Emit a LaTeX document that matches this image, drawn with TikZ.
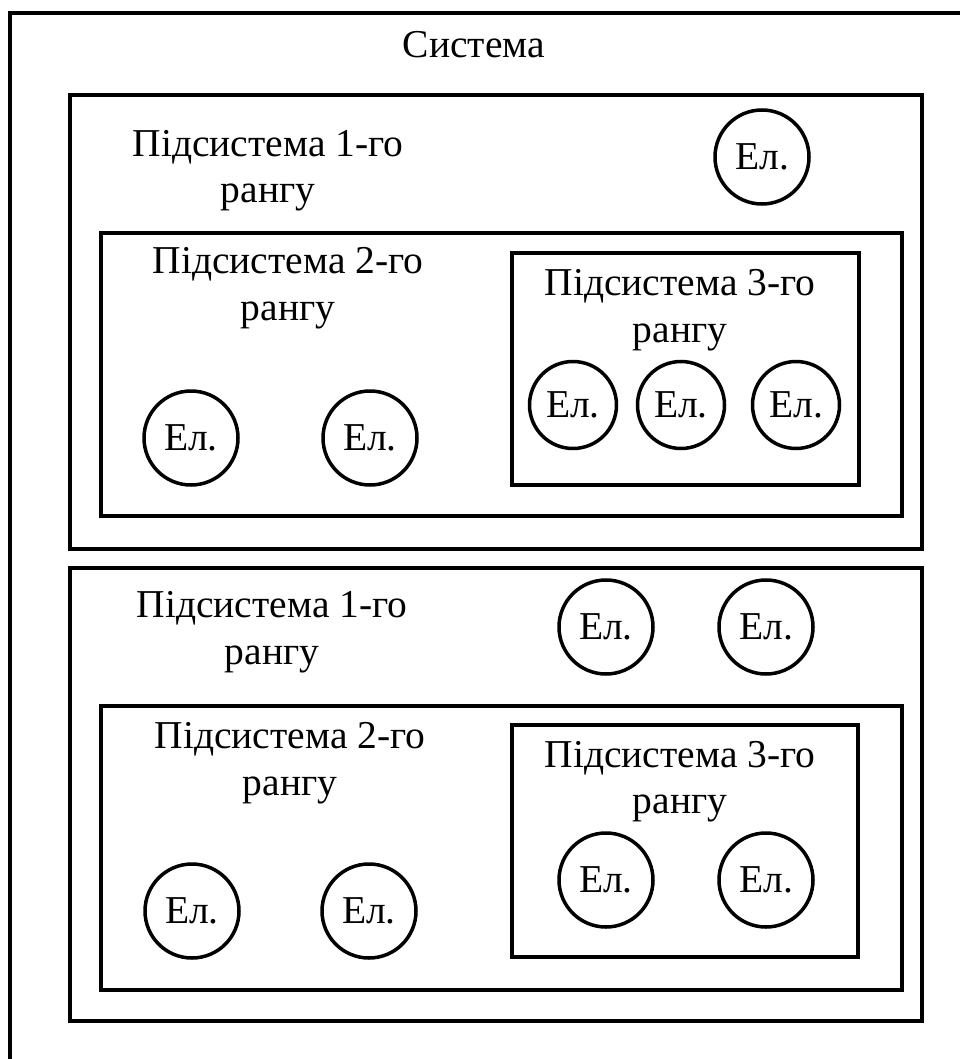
\documentclass[tikz,border=0pt]{standalone}
\usepackage{fontspec}
\setmainfont{LiberationSerif}[Extension=.ttf, UprightFont=*-Regular, BoldFont=*-Bold]
\newcommand\lblfont{\fontsize{39.5}{46}\selectfont}
\begin{document}
\begin{tikzpicture}[x=1pt,y=-1pt,
  box/.style={draw, line width=4pt},
  el/.style={draw, circle, line width=3.5pt, minimum size=94pt, inner sep=0pt, font=\lblfont},
  lbl/.style={anchor=base, inner sep=0pt, font=\lblfont}]
\useasboundingbox (0,0) rectangle (960,1059);
\clip (0,0) rectangle (960,1059);
% system (extends beyond the picture on the right and bottom)
\draw[box] (10,13) rectangle (990,1090);
\node[lbl] (sys) at (474,58) {Система};
% ---- upper subsystem of rank 1
\draw[box] (70,95) rectangle (922,549);
\node[lbl] (a1l1) at (268,157) {Підсистема 1-го};
\node[lbl] (a1l2) at (268,203) {рангу};
\node[el] (a1e) at (762,157) {Ел.};
\draw[box] (101,233) rectangle (902,516);
\node[lbl] (a2l1) at (288,273) {Підсистема 2-го};
\node[lbl] (a2l2) at (288,320) {рангу};
\node[el] (a2e1) at (191,438) {Ел.};
\node[el] (a2e2) at (370,438) {Ел.};
\draw[box] (511.5,253) rectangle (859,485);
\node[lbl] (a3l1) at (680,295) {Підсистема 3-го};
\node[lbl] (a3l2) at (680,342) {рангу};
\node[el, minimum size=87pt] (a3e1) at (573,405) {Ел.};
\node[el, minimum size=87pt] (a3e2) at (681,405) {Ел.};
\node[el, minimum size=87pt] (a3e3) at (796,405) {Ел.};
% ---- lower subsystem of rank 1
\draw[box] (70,568) rectangle (922,1021);
\node[lbl] (b1l1) at (272,617) {Підсистема 1-го};
\node[lbl] (b1l2) at (272,664) {рангу};
\node[el] (b1e1) at (606,627) {Ел.};
\node[el] (b1e2) at (766,627) {Ел.};
\draw[box] (101,706) rectangle (902,990);
\node[lbl] (b2l1) at (290,748) {Підсистема 2-го};
\node[lbl] (b2l2) at (290,795) {рангу};
\node[el] (b2e1) at (192,911) {Ел.};
\node[el] (b2e2) at (369,911) {Ел.};
\draw[box] (512,725) rectangle (858,957);
\node[lbl] (b3l1) at (680,767) {Підсистема 3-го};
\node[lbl] (b3l2) at (680,813) {рангу};
\node[el] (b3e1) at (606,880) {Ел.};
\node[el] (b3e2) at (766,880) {Ел.};
\end{tikzpicture}
\end{document}
